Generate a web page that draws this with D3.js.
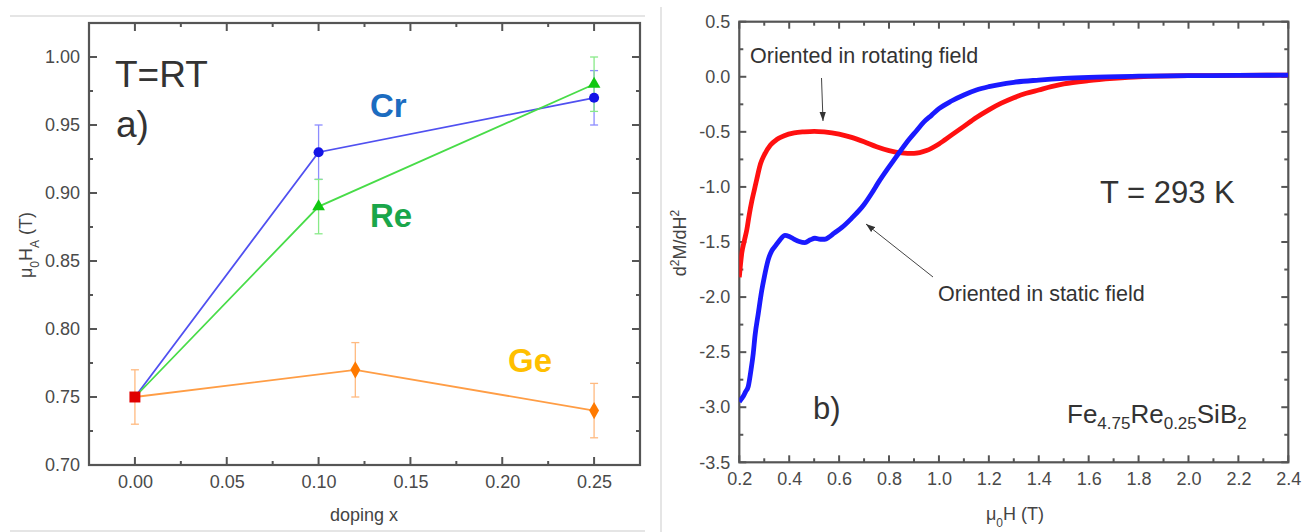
<!DOCTYPE html>
<html><head><meta charset="utf-8">
<script src="https://cdn.jsdelivr.net/npm/d3@7"></script>
<style>body{margin:0;background:#fff}svg{display:block}text{font-family:"Liberation Sans",Arial,sans-serif}</style>
</head><body><svg id="c" width="1308" height="532"></svg>
<script>
// ---------- Panel a) data ----------
const undopedX = [0.00], undopedH = [0.75], undopedErr = [0.02];
const dopingCr = [0.00, 0.10, 0.25], hCr = [0.75, 0.93, 0.97], errCr = [0, 0.02, 0.02];
const dopingRe = [0.00, 0.10, 0.25], hRe = [0.75, 0.89, 0.98], errRe = [0, 0.02, 0.02];
const dopingGe = [0.00, 0.12, 0.25], hGe = [0.75, 0.77, 0.74], errGe = [0, 0.02, 0.02];
const xTicksA = [0.00, 0.05, 0.10, 0.15, 0.20, 0.25];
const xMinorA = [0.025, 0.075, 0.125, 0.175, 0.225];
const yTicksA = [0.70, 0.75, 0.80, 0.85, 0.90, 0.95, 1.00];
const yMinorA = [0.725, 0.775, 0.825, 0.875, 0.925, 0.975];

// ---------- Panel b) data ----------
const fieldRot = [0.200,0.205,0.210,0.220,0.230,0.240,0.250,0.260,0.270,0.285,0.300,0.325,0.350,0.380,0.420,0.460,0.500,0.540,0.600,0.650,0.700,0.750,0.800,0.850,0.900,0.950,1.000,1.050,1.100,1.150,1.200,1.250,1.300,1.350,1.400,1.450,1.500,1.600,1.700,1.800,2.000,2.200,2.400];
const d2Rot = [-1.82,-1.70,-1.60,-1.49,-1.39,-1.25,-1.13,-1.03,-0.93,-0.79,-0.71,-0.62,-0.57,-0.535,-0.51,-0.50,-0.495,-0.50,-0.52,-0.55,-0.59,-0.635,-0.67,-0.69,-0.695,-0.67,-0.61,-0.53,-0.45,-0.37,-0.30,-0.24,-0.19,-0.15,-0.12,-0.09,-0.065,-0.035,-0.015,0.0,0.01,0.012,0.015];
const fieldStat = [0.200,0.210,0.216,0.225,0.236,0.247,0.256,0.263,0.276,0.290,0.300,0.316,0.330,0.343,0.363,0.383,0.400,0.420,0.440,0.463,0.485,0.503,0.525,0.543,0.560,0.580,0.610,0.650,0.700,0.730,0.760,0.790,0.820,0.850,0.880,0.910,0.940,0.970,1.000,1.050,1.100,1.150,1.200,1.270,1.300,1.400,1.500,1.600,1.800,2.000,2.200,2.400];
const d2Stat = [-2.95,-2.92,-2.90,-2.86,-2.81,-2.66,-2.51,-2.35,-2.15,-1.94,-1.82,-1.66,-1.58,-1.54,-1.48,-1.44,-1.45,-1.475,-1.495,-1.505,-1.48,-1.466,-1.475,-1.475,-1.455,-1.42,-1.37,-1.285,-1.16,-1.06,-0.95,-0.85,-0.755,-0.66,-0.57,-0.49,-0.41,-0.35,-0.29,-0.22,-0.165,-0.12,-0.09,-0.06,-0.05,-0.03,-0.015,-0.005,0.005,0.01,0.012,0.015];
const xTicksB = [0.2,0.4,0.6,0.8,1.0,1.2,1.4,1.6,1.8,2.0,2.2,2.4];
const xMinorB = [0.3,0.5,0.7,0.9,1.1,1.3,1.5,1.7,1.9,2.1,2.3];
const yTicksB = [-3.5,-3.0,-2.5,-2.0,-1.5,-1.0,-0.5,0.0,0.5];
const yMinorB = [-3.25,-2.75,-2.25,-1.75,-1.25,-0.75,-0.25,0.25];

const svg = d3.select("#c");
svg.append("rect").attr("width",1308).attr("height",532).attr("fill","#fff");
const AX = "#555", LBL = "#4a4a4a";

// figure borders
svg.append("line").attr("x1",10).attr("x2",645).attr("y1",16).attr("y2",16).attr("stroke","#ddd").attr("stroke-width",1.5);
svg.append("line").attr("x1",10).attr("x2",645).attr("y1",531).attr("y2",531).attr("stroke","#ddd").attr("stroke-width",1.5);
svg.append("line").attr("x1",661).attr("x2",661).attr("y1",7).attr("y2",532).attr("stroke","#ddd").attr("stroke-width",1.5);

function frameAxes(x, y, xt, xm, yt, ym, xfmt, yfmt, major, minor) {
  const [x0,x1] = x.range(), [y0,y1] = y.range();
  const style = g => { g.select(".domain").remove(); g.selectAll(".tick line").remove();
    g.selectAll("text").attr("fill",LBL).style("font-size","18px"); };
  svg.append("g").attr("transform",`translate(0,${y0})`).call(d3.axisBottom(x).tickValues(xt).tickSize(0).tickPadding(10).tickFormat(xfmt)).call(style);
  svg.append("g").attr("transform",`translate(${x0},0)`).call(d3.axisLeft(y).tickValues(yt).tickSize(0).tickPadding(9).tickFormat(yfmt)).call(style);
  const tg = svg.append("g").attr("stroke",AX).attr("stroke-width",2);
  const vt = (vals, len) => vals.forEach(v => {
    tg.append("line").attr("x1",x(v)).attr("x2",x(v)).attr("y1",y0).attr("y2",y0-len);
    tg.append("line").attr("x1",x(v)).attr("x2",x(v)).attr("y1",y1).attr("y2",y1+len);
  });
  const ht = (vals, len) => vals.forEach(v => {
    tg.append("line").attr("y1",y(v)).attr("y2",y(v)).attr("x1",x0).attr("x2",x0+len);
    tg.append("line").attr("y1",y(v)).attr("y2",y(v)).attr("x1",x1).attr("x2",x1-len);
  });
  vt(xt, major); vt(xm, minor); ht(yt, major); ht(ym, minor);
  svg.append("rect").attr("x",x0).attr("y",y1).attr("width",x1-x0).attr("height",y0-y1)
    .attr("fill","none").attr("stroke",AX).attr("stroke-width",2.2);
}

// ================= Panel a =================
const xA = d3.scaleLinear().domain([-0.025,0.275]).range([89,640]);
const yA = d3.scaleLinear().domain([0.70,1.025]).range([465,23]);
frameAxes(xA, yA, xTicksA, xMinorA, yTicksA, yMinorA, d3.format(".2f"), d3.format(".2f"), 8, 4);

const lineA = d3.line().x(d=>xA(d[0])).y(d=>yA(d[1]));
function errBar(g, x, v, e) {
  g.append("line").attr("x1",xA(x)).attr("x2",xA(x)).attr("y1",yA(v-e)).attr("y2",yA(v+e));
  [v-e, v+e].forEach(w=>g.append("line").attr("x1",xA(x)-4).attr("x2",xA(x)+4).attr("y1",yA(w)).attr("y2",yA(w)));
}
function series(xs, ys, es, lc, ec) {
  const pts = xs.map((x,i)=>[x,ys[i],es[i]]);
  svg.append("path").datum(pts).attr("d",lineA).attr("fill","none").attr("stroke",lc).attr("stroke-width",1.8);
  const g = svg.append("g").attr("stroke",ec).attr("stroke-width",1.3);
  pts.forEach(p=>{ if (p[2] > 0) errBar(g, p[0], p[1], p[2]); });
  return pts.slice(1);
}
const mCr = series(dopingCr,hCr,errCr,"#5050f0","#8c8cff");
const mRe = series(dopingRe,hRe,errRe,"#48dc48","#88ea88");
const mGe = series(dopingGe,hGe,errGe,"#ff9d45","#ffba80");
const gU = svg.append("g").attr("stroke","#ffba80").attr("stroke-width",1.3);
undopedX.forEach((x,i)=>errBar(gU, x, undopedH[i], undopedErr[i]));

function markers(pts, color, sym, size) {
  svg.selectAll(null).data(pts).enter().append("path")
    .attr("d", d3.symbol().type(sym).size(size)())
    .attr("transform", d=>`translate(${xA(d[0])},${yA(d[1])})`).attr("fill",color);
}
markers(mCr,"#1414e6",d3.symbolCircle,80);
markers(mRe,"#10c810",d3.symbolTriangle,70);
markers(mGe,"#ff7a00",d3.symbolDiamond,85);
markers(undopedX.map((x,i)=>[x,undopedH[i]]),"#e00000",d3.symbolSquare,120);

svg.append("text").attr("x",115).attr("y",87).attr("fill","#333").style("font-size","37px").text("T=RT");
svg.append("text").attr("x",116).attr("y",137).attr("fill","#333").style("font-size","37px").text("a)");
svg.append("text").attr("x",370).attr("y",117).attr("fill","#1c6cc0").style("font-size","33px").style("font-weight","bold").text("Cr");
svg.append("text").attr("x",370).attr("y",227).attr("fill","#1aa64a").style("font-size","33px").style("font-weight","bold").text("Re");
svg.append("text").attr("x",508).attr("y",372).attr("fill","#ffbf00").style("font-size","33px").style("font-weight","bold").text("Ge");
svg.append("text").attr("x",364).attr("y",521).attr("text-anchor","middle").attr("fill","#444").style("font-size","18px").text("doping x");
const yLabA = svg.append("text").attr("transform","translate(32,245) rotate(-90)").attr("text-anchor","middle").attr("fill","#444").style("font-size","18px");
yLabA.append("tspan").text("μ");
yLabA.append("tspan").attr("baseline-shift","sub").style("font-size","12px").text("0");
yLabA.append("tspan").text("H");
yLabA.append("tspan").attr("baseline-shift","sub").style("font-size","12px").text("A");
yLabA.append("tspan").text(" (T)");

// ================= Panel b =================
const xB = d3.scaleLinear().domain([0.2,2.4]).range([739.3,1288.3]);
const yB = d3.scaleLinear().domain([-3.5,0.5]).range([462.3,21.7]);
frameAxes(xB, yB, xTicksB, xMinorB, yTicksB, yMinorB, d=>d.toFixed(1), d=>d.toFixed(1), 7, 4);

svg.append("clipPath").attr("id","cb").append("rect").attr("x",739.3).attr("y",21.7).attr("width",549).attr("height",440.6);
const lineB = d3.line().x(d=>xB(d[0])).y(d=>yB(d[1])).curve(d3.curveMonotoneX);
svg.append("path").datum(fieldRot.map((x,i)=>[x,d2Rot[i]])).attr("d",lineB).attr("clip-path","url(#cb)")
  .attr("fill","none").attr("stroke","#ff1010").attr("stroke-width",4.8);
svg.append("path").datum(fieldStat.map((x,i)=>[x,d2Stat[i]])).attr("d",lineB).attr("clip-path","url(#cb)")
  .attr("fill","none").attr("stroke","#1a1aff").attr("stroke-width",4.8);

const defs = svg.append("defs");
defs.append("marker").attr("id","ah").attr("viewBox","0 0 10 10").attr("refX",10).attr("refY",5)
  .attr("markerWidth",9).attr("markerHeight",9).attr("orient","auto").attr("markerUnits","userSpaceOnUse")
  .append("path").attr("d","M0,1.5 L10,5 L0,8.5 Z").attr("fill","#333");
svg.append("line").attr("x1",821.5).attr("y1",78).attr("x2",823).attr("y2",121).attr("stroke","#444").attr("stroke-width",1).attr("marker-end","url(#ah)");
svg.append("line").attr("x1",933).attr("y1",277).attr("x2",866).attr("y2",224).attr("stroke","#444").attr("stroke-width",1).attr("marker-end","url(#ah)");

svg.append("text").attr("x",750).attr("y",63).attr("fill","#333").style("font-size","21.5px").text("Oriented in rotating field");
svg.append("text").attr("x",938).attr("y",301).attr("fill","#333").style("font-size","21.5px").text("Oriented in static field");
svg.append("text").attr("x",1100).attr("y",203).attr("fill","#333").style("font-size","31px").text("T = 293 K");
svg.append("text").attr("x",813).attr("y",419).attr("fill","#333").style("font-size","31px").text("b)");
const formula = svg.append("text").attr("x",1067).attr("y",423).attr("fill","#333").style("font-size","26px");
formula.append("tspan").text("Fe");
formula.append("tspan").attr("dy",6).style("font-size","17px").text("4.75");
formula.append("tspan").attr("dy",-6).text("Re");
formula.append("tspan").attr("dy",6).style("font-size","17px").text("0.25");
formula.append("tspan").attr("dy",-6).text("SiB");
formula.append("tspan").attr("dy",6).style("font-size","17px").text("2");

const xLabB = svg.append("text").attr("x",1015).attr("y",520).attr("text-anchor","middle").attr("fill","#444").style("font-size","18px");
xLabB.append("tspan").text("μ");
xLabB.append("tspan").attr("baseline-shift","sub").style("font-size","12px").text("0");
xLabB.append("tspan").text("H (T)");
const yLabB = svg.append("text").attr("transform","translate(686,243) rotate(-90)").attr("text-anchor","middle").attr("fill","#444").style("font-size","18px");
yLabB.append("tspan").text("d");
yLabB.append("tspan").attr("baseline-shift","super").style("font-size","12px").text("2");
yLabB.append("tspan").text("M/dH");
yLabB.append("tspan").attr("baseline-shift","super").style("font-size","12px").text("2");
</script></body></html>
